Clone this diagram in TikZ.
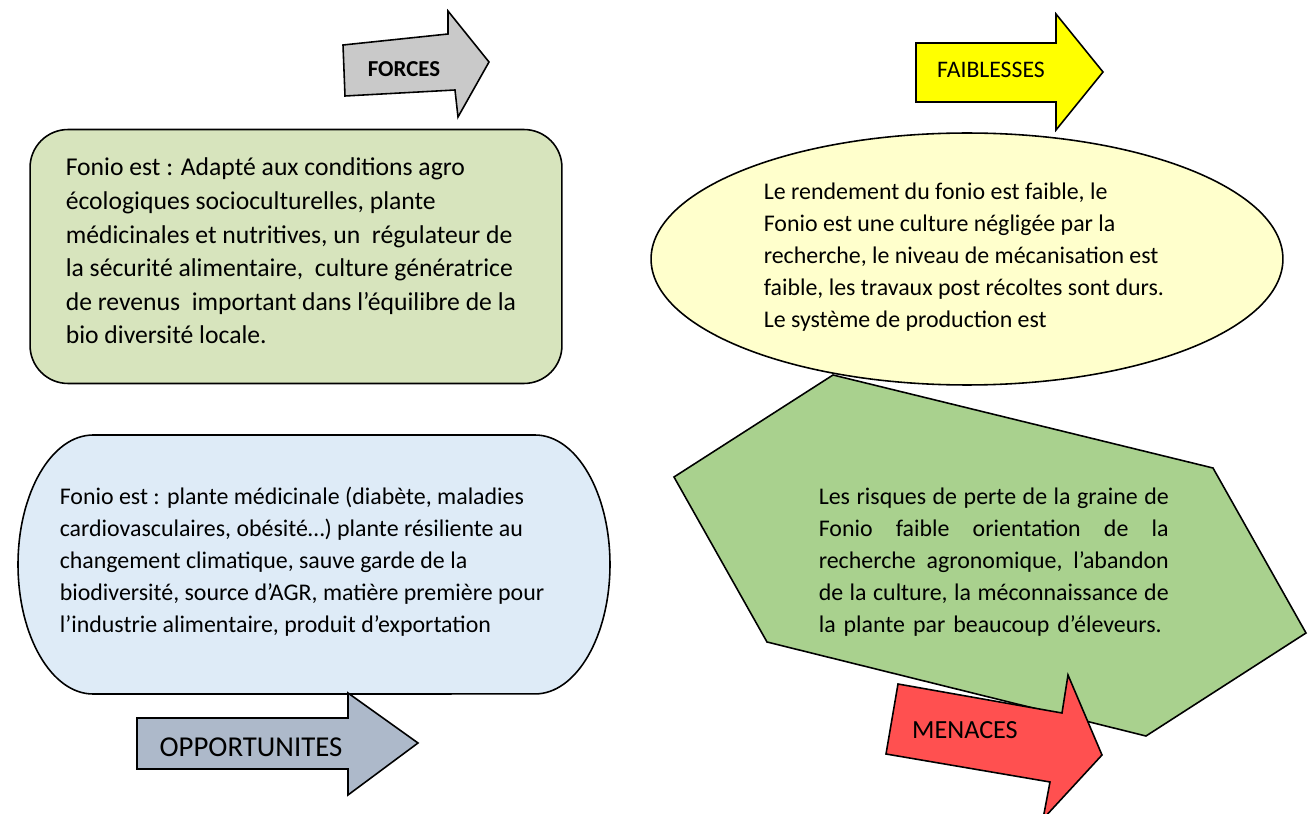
\documentclass[tikz,border=0pt]{standalone}
\usepackage{fontspec}
\setmainfont{Carlito}
\usetikzlibrary{shapes.geometric}
\definecolor{forcesgray}{HTML}{C9C9C9}
\definecolor{forcesgreen}{HTML}{D7E4BD}
\definecolor{faibyellow}{HTML}{FFFF00}
\definecolor{faibcream}{HTML}{FFFFCC}
\definecolor{oppblue}{HTML}{DEEBF7}
\definecolor{oppgray}{HTML}{ADB9CA}
\definecolor{menacegreen}{HTML}{A9D18E}
\definecolor{menacered}{HTML}{FF5050}
\newcommand{\gap}{\hfill}
\begin{document}
\begin{tikzpicture}[
 x=0.02cm, y=-0.02cm,
 line width=0.9pt,
 outline/.style={draw=black},
 txt/.style={anchor=west,align=left,inner sep=0pt,font=\fontsize{13.6pt}{18.2pt}\selectfont},
 arrowtext/.style={inner sep=0pt,font=\fontsize{13.5pt}{16pt}\selectfont}
]
\useasboundingbox (0,0) rectangle (1313,814);
\draw[outline,fill=forcesgray] (343,45) -- (448,34) -- (448,11) -- (489,62) -- (458,117) -- (455,90) -- (345,96) -- cycle;
\node (forces-label) [arrowtext,font=\bfseries\fontsize{13pt}{15pt}\selectfont] at (404,69) {FORCES};
\node (forces-box) [outline,fill=forcesgreen,rounded corners=0.76cm,minimum width=10.64cm,minimum height=5.08cm] at (296,256.5) {};
\node (forces-text) [txt,font=\fontsize{14.6pt}{19.1pt}\selectfont] at (65,251) {Fonio est : Adapté aux conditions agro\\écologiques socioculturelles, plante\\médicinales et nutritives, un \ régulateur de\\la sécurité alimentaire, \ culture génératrice\\de revenus \ important dans l’équilibre de la\\bio diversité locale.};
\draw[outline,fill=faibyellow] (916,43) -- (1056,43) -- (1056,14) -- (1103,72) -- (1056,130) -- (1056,102) -- (916,102) -- cycle;
\node (faib-label) [arrowtext] at (991,70) {FAIBLESSES};
\draw[outline,fill=menacegreen] (833,375) -- (1213,468) -- (1306,633) -- (1146,736) -- (767,642) -- (674,477) -- cycle;
\node (menaces-text) [txt,text width=7cm] at (818,562) {Les\gap risques\gap de\gap perte\gap de\gap la\gap graine\gap de\\Fonio\gap faible\gap orientation\gap de\gap la\\recherche\gap agronomique,\gap l’abandon\\de\gap la\gap culture,\gap la\gap méconnaissance\gap de\\la plante par beaucoup d’éleveurs.};
\node (faib-box) [outline,ellipse,fill=faibcream,minimum width=12.64cm,minimum height=5.04cm,inner sep=0pt] at (967,259) {};
\node (faib-text) [txt] at (763,257.5) {Le rendement du fonio est faible, le\\Fonio est une culture négligée par la\\recherche, le niveau de mécanisation est\\faible, les travaux post récoltes sont durs.\\Le système de production est};
\draw[outline,fill=oppblue] (93,435) -- (535,435) arc[start angle=90,end angle=-90,x radius=1.5cm,y radius=2.59cm] -- (93,694) arc[start angle=270,end angle=90,x radius=1.5cm,y radius=2.59cm] -- cycle;
\node (opp-text) [txt] at (59,562) {Fonio est : plante médicinale (diabète, maladies\\cardiovasculaires, obésité…) plante résiliente au\\changement climatique, sauve garde de la\\biodiversité, source d’AGR, matière première pour\\l’industrie alimentaire, produit d’exportation};
\draw[outline,fill=oppgray] (137,718) -- (348,718) -- (348,693) -- (418,743) -- (348,795) -- (348,769) -- (137,769) -- cycle;
\node (opp-label) [arrowtext,font=\fontsize{16.4pt}{19pt}\selectfont] at (251,747) {OPPORTUNITES};
\draw[outline,fill=menacered] (898,684) -- (1062,713) -- (1068,675) -- (1102,755) -- (1043,819) -- (1050,782) -- (886,754) -- cycle;
\node (menaces-label) [arrowtext,font=\fontsize{14.9pt}{17pt}\selectfont] at (965,730) {MENACES};
\end{tikzpicture}
\end{document}
